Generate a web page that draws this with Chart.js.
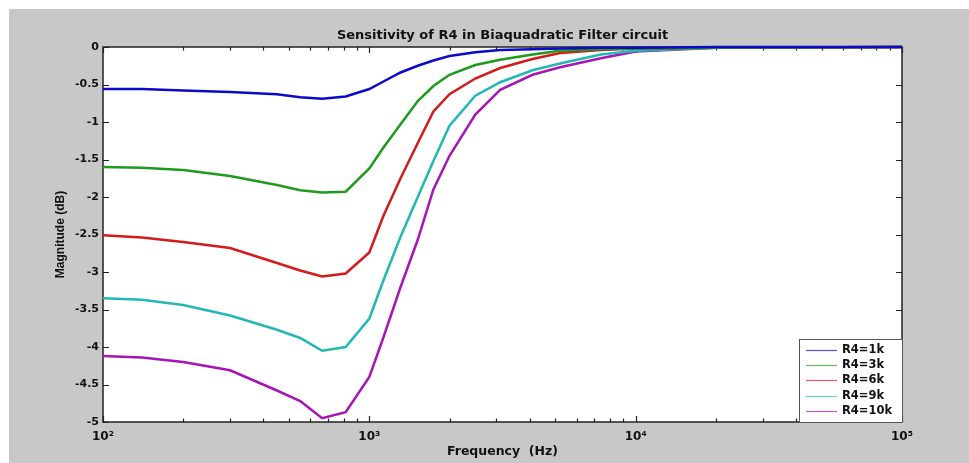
<!DOCTYPE html>
<html>
<head>
<meta charset="utf-8">
<script src="https://cdn.jsdelivr.net/npm/chart.js@4.4.0/dist/chart.umd.min.js"></script>
<style>
html,body{margin:0;padding:0;background:#fff;}
#figura{position:absolute;left:9px;top:9px;width:960px;height:454px;background:#c8c8c8;}
canvas{display:block;}
</style>
</head>
<body>

<div id="figura"><canvas id="grafico" width="960" height="454"></canvas></div>

<script>

// ---------------------
// DADOS
// ---------------------

const frequencias=[100,140,200,300,450,550,665,815,1000,1130,1310,1520,1740,2000,2500,3100,4100,5200,7400,10000,20000,100000];

const r4_1k =[-0.56,-0.56,-0.58,-0.60,-0.63,-0.67,-0.69,-0.66,-0.56,-0.46,-0.34,-0.25,-0.18,-0.12,-0.07,-0.04,-0.03,-0.02,-0.01,-0.01,0,0];
const r4_3k =[-1.60,-1.61,-1.64,-1.72,-1.84,-1.91,-1.94,-1.93,-1.62,-1.34,-1.03,-0.72,-0.52,-0.37,-0.24,-0.17,-0.10,-0.05,-0.03,-0.02,-0.01,0];
const r4_6k =[-2.51,-2.54,-2.60,-2.68,-2.88,-2.98,-3.06,-3.02,-2.74,-2.25,-1.75,-1.28,-0.86,-0.63,-0.42,-0.28,-0.16,-0.08,-0.04,-0.02,-0.01,0];
const r4_9k =[-3.35,-3.37,-3.44,-3.58,-3.77,-3.88,-4.05,-4.00,-3.62,-3.11,-2.53,-2.00,-1.52,-1.05,-0.65,-0.47,-0.31,-0.22,-0.10,-0.05,-0.01,0];
const r4_10k=[-4.12,-4.14,-4.20,-4.31,-4.58,-4.72,-4.95,-4.87,-4.40,-3.87,-3.20,-2.57,-1.90,-1.45,-0.90,-0.57,-0.37,-0.27,-0.15,-0.06,-0.01,0];

const series=["R4=1k","R4=3k","R4=6k","R4=9k","R4=10k"];
const cores=["#0a0ac8","#1f9a1f","#d41a1a","#22b8b4","#a516b5"];

const decadas=[100,1000,10000,100000];
const rotulosX=["10²","10³","10⁴","10⁵"];

const titulo="Sensitivity of R4 in Biaquadratic Filter circuit";
const tituloX="Frequency  (Hz)";
const tituloY="Magnitude (dB)";

const FONTE="'DejaVu Sans', sans-serif";

// ---------------------
// PLUGINS
// ---------------------

// fundo branco so na area dos eixos
const fundoEixos={
    id:"fundoEixos",
    beforeDraw(chart){
        const a=chart.chartArea;
        chart.ctx.save();
        chart.ctx.fillStyle="#fff";
        chart.ctx.fillRect(a.left,a.top,a.right-a.left,a.bottom-a.top);
        chart.ctx.restore();
    }
};

// caixa dos eixos com ticks para dentro (estilo matlab)
const caixaEixos={
    id:"caixaEixos",
    beforeDatasetsDraw(chart){
        const ctx=chart.ctx;
        const a=chart.chartArea;
        const x=chart.scales.x;
        const y=chart.scales.y;

        ctx.save();
        ctx.strokeStyle="#222";
        ctx.lineWidth=1.2;
        ctx.beginPath();

        // ticks x (maiores e menores)
        decadas.forEach((d,i)=>{
            const px=Math.round(x.getPixelForValue(d))+0.5;
            ctx.moveTo(px,a.bottom);ctx.lineTo(px,a.bottom-6);
            ctx.moveTo(px,a.top);ctx.lineTo(px,a.top+6);
            if(i<decadas.length-1){
                for(let k=2;k<10;k++){
                    const pm=Math.round(x.getPixelForValue(k*d))+0.5;
                    ctx.moveTo(pm,a.bottom);ctx.lineTo(pm,a.bottom-3.5);
                    ctx.moveTo(pm,a.top);ctx.lineTo(pm,a.top+3.5);
                }
            }
        });

        // ticks y
        y.ticks.forEach(t=>{
            const py=Math.round(y.getPixelForValue(t.value))+0.5;
            ctx.moveTo(a.left,py);ctx.lineTo(a.left+6,py);
            ctx.moveTo(a.right,py);ctx.lineTo(a.right-6,py);
        });
        ctx.stroke();

        ctx.lineWidth=1.5;
        ctx.strokeRect(a.left,a.top,a.right-a.left,a.bottom-a.top);
        ctx.restore();
    }
};

// legenda dentro da area do grafico, canto inferior direito
const legendaInterna={
    id:"legendaInterna",
    afterDraw(chart){
        const ctx=chart.ctx;
        const a=chart.chartArea;
        const larg=103,alt=83;
        const esq=a.right-larg,topo=a.bottom-alt;

        ctx.save();
        ctx.fillStyle="#fff";
        ctx.fillRect(esq,topo,larg,alt);
        ctx.strokeStyle="#555";
        ctx.lineWidth=1;
        ctx.strokeRect(esq+0.5,topo+0.5,larg,alt);

        ctx.font="bold 11.5px "+FONTE;
        ctx.textBaseline="middle";
        chart.data.datasets.forEach((ds,i)=>{
            const py=Math.round(topo+10.5+i*15.4);
            ctx.globalAlpha=0.7;
            ctx.strokeStyle=ds.borderColor;
            ctx.lineWidth=1.2;
            ctx.beginPath();
            ctx.moveTo(esq+7,py+0.5);ctx.lineTo(esq+38,py+0.5);
            ctx.stroke();
            ctx.globalAlpha=1;
            ctx.fillStyle="#111";
            ctx.fillText(ds.label,esq+43,py+0.5);
        });
        ctx.restore();
    }
};

// ---------------------
// GRAFICO
// ---------------------

function renderGrafico(){

    const dados=[r4_1k,r4_3k,r4_6k,r4_9k,r4_10k];

    const datasets=dados.map((valores,i)=>({
        label:series[i],
        data:frequencias.map((f,j)=>({x:f,y:valores[j]})),
        borderColor:cores[i],
        borderWidth:2.5,
        pointRadius:0,
        tension:0,
        clip:3
    }));

    new Chart(document.getElementById("grafico"),{

        type:"line",

        data:{datasets:datasets},

        options:{
            responsive:false,
            animation:false,
            layout:{padding:{left:0,right:67,top:0,bottom:0}},
            plugins:{
                legend:{display:false},
                tooltip:{enabled:false},
                title:{
                    display:true,
                    text:titulo,
                    fullSize:false,
                    color:"#111",
                    font:{family:FONTE,size:13,weight:"bold",lineHeight:1.2},
                    padding:{top:19,bottom:3.4}
                }
            },
            scales:{
                x:{
                    type:"logarithmic",
                    min:100,
                    max:100000,
                    grid:{display:false,drawTicks:false},
                    border:{display:false},
                    afterBuildTicks(scale){
                        scale.ticks=decadas.map(v=>({value:v}));
                    },
                    afterFit(scale){
                        scale.height=41;
                    },
                    ticks:{
                        autoSkip:false,
                        maxRotation:0,
                        padding:8,
                        color:"#111",
                        font:{family:FONTE,size:12,weight:"bold"},
                        callback:(v)=>rotulosX[decadas.indexOf(v)]
                    },
                    title:{
                        display:true,
                        text:tituloX,
                        color:"#111",
                        font:{family:FONTE,size:12.5,weight:"bold"},
                        padding:{top:0,bottom:4}
                    }
                },
                y:{
                    min:-5,
                    max:0,
                    grid:{display:false,drawTicks:false},
                    border:{display:false},
                    afterFit(scale){
                        scale.width=94;
                    },
                    ticks:{
                        stepSize:0.5,
                        padding:4,
                        color:"#111",
                        font:{family:FONTE,size:11,weight:"bold"},
                        callback:(v)=>String(Number(v.toFixed(1)))
                    },
                    title:{
                        display:true,
                        text:tituloY,
                        color:"#111",
                        font:{family:"'Liberation Sans', sans-serif",size:12,weight:"bold"},
                        padding:{top:44,bottom:0}
                    }
                }
            }
        },

        plugins:[fundoEixos,caixaEixos,legendaInterna]

    });

}

renderGrafico();

</script>
</body>
</html>
